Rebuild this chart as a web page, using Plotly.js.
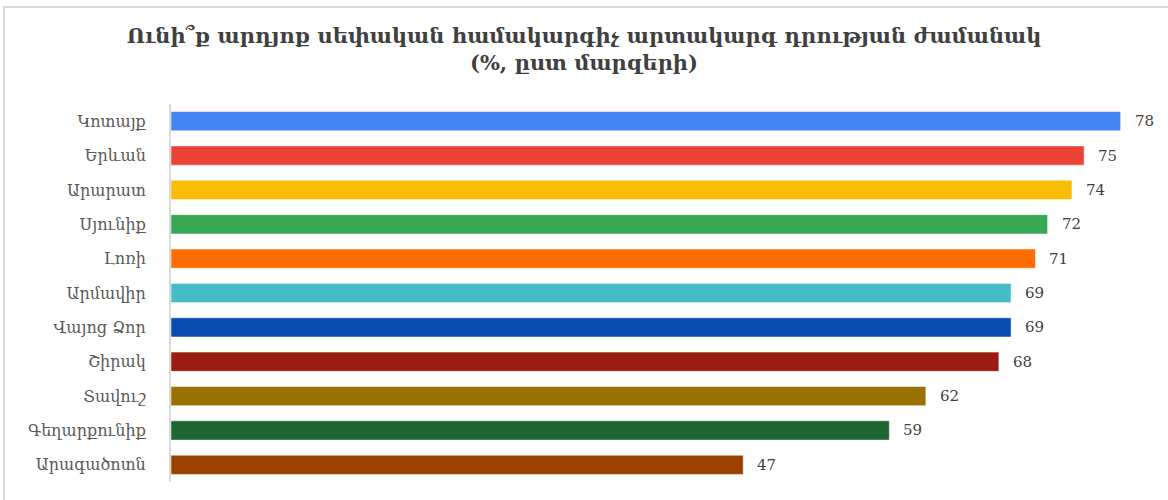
<!DOCTYPE html>
<html>
<head>
<meta charset="utf-8">
<script src="https://cdn.plot.ly/plotly-3.0.1.min.js"></script>
<style>
html,body{margin:0;padding:0;background:#fff;}
#wrap{position:relative;width:1168px;height:500px;overflow:hidden;}
#chart{position:absolute;left:0;top:0;width:1168px;height:500px;}
#frame{position:absolute;left:3px;top:6px;width:1200px;height:520px;border-top:2px solid #d9d9d9;border-left:2px solid #d9d9d9;pointer-events:none;}
</style>
</head>
<body>
<div id="wrap"><div id="chart"></div><div id="frame"></div></div>
<script>
const regions = ["Կոտայք","Երևան","Արարատ","Սյունիք","Լոռի","Արմավիր","Վայոց Ձոր","Շիրակ","Տավուշ","Գեղարքունիք","Արագածոտն"];
const values = [78,75,74,72,71,69,69,68,62,59,47];
const colors = ["#4285F4","#EA4335","#FBBC04","#34A853","#FF6D01","#46BDC6","#0B4CB2","#9B1C13","#997100","#1F6531","#9B4200"];
const titleLines = ["Ունի՞ք արդյոք սեփական համակարգիչ արտակարգ դրության ժամանակ","(%, ըստ մարզերի)"];

const font = "DejaVu Serif, Liberation Serif, serif";

const trace = {
  type: "bar",
  orientation: "h",
  x: values,
  y: regions,
  marker: {color: colors, line: {color: "rgba(255,255,255,0.5)", width: 1}},
  width: 0.56,
  hoverinfo: "x+y"
};

const annotations = values.map((v, i) => ({
  x: v, y: regions[i], xref: "x", yref: "y",
  text: String(v), showarrow: false,
  xanchor: "left", xshift: 12, yshift: 0,
  font: {family: font, size: 15, color: "#404040"}
}));

const layout = {
  width: 1168, height: 500,
  margin: {l: 171, r: 23, t: 104, b: 18},
  paper_bgcolor: "#fff", plot_bgcolor: "#fff",
  title: {
    text: "<b>" + titleLines.join("<br>") + "</b>",
    x: 0.5, xanchor: "center", xref: "container",
    y: 0.915, yanchor: "top", yref: "container",
    font: {family: font, size: 21, color: "#404040"}
  },
  xaxis: {range: [0, 80], showgrid: false, zeroline: false, showticklabels: false, showline: false, fixedrange: true},
  yaxis: {
    autorange: "reversed", showgrid: false, zeroline: false,
    showline: true, linecolor: "#d9d9d9", linewidth: 2,
    ticks: "", ticklabelstandoff: 20,
    tickfont: {family: font, size: 16, color: "#595959"}
  },
  annotations: annotations,
  showlegend: false,
  bargap: 0.44
};

Plotly.newPlot("chart", [trace], layout, {displayModeBar: false, staticPlot: true});
</script>
</body>
</html>
